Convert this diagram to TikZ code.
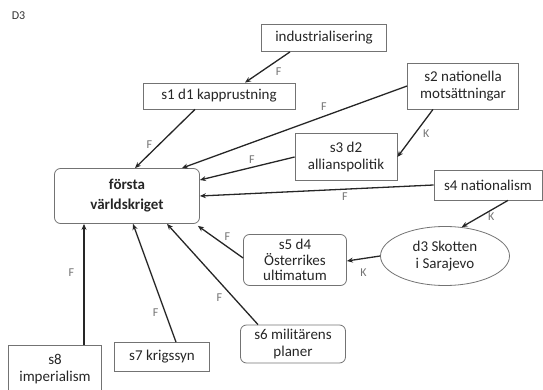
\documentclass[tikz,border=0pt]{standalone}
\usepackage{fontspec}
\setmainfont{Carlito}
\usetikzlibrary{arrows.meta,shapes.geometric}

\begin{document}
\begin{tikzpicture}[x=1pt,y=-1pt,line width=1pt,font=\fontsize{15}{16.5}\selectfont,
    box/.style={draw=black!55,line width=0.8pt,align=center,inner sep=1pt,text=black!85},
    rbox/.style={box,rounded corners=6pt},
    pil/.style={draw=black!85,line width=1.3pt,-{Stealth[length=6pt,width=5pt]}},
    lbl/.style={text=black!55,font=\fontsize{12}{14}\selectfont}]
    \useasboundingbox (0,0) rectangle (543,390);
    \node[anchor=west,text=black!80] (d3) at (8,16) {\fontsize{12}{14}\selectfont D3};
    % noder
    \node[box,minimum width=125,minimum height=27]            (ind) at (324,38)  {industrialisering};
    \node[box,minimum width=152,minimum height=26]            (s1)  at (219,96)  {s1 d1 kapprustning};
    \node[box,minimum width=111,minimum height=46]            (s2)  at (463,86)  {s2 nationella\\motsättningar};
    \node[box,minimum width=102,minimum height=47]            (s3)  at (346,157) {s3 d2\\allianspolitik};
    \node[box,minimum width=108,minimum height=30]            (s4)  at (488,185) {s4 nationalism};
    \node[rbox,minimum width=145,minimum height=55,font=\fontsize{15}{20}\selectfont\bfseries]
                                                              (fv)  at (127,196) {första\\världskriget};
    \node[draw=black!55,line width=0.8pt,ellipse,align=center,minimum width=129,minimum height=59,inner sep=0pt,text=black!85]
                                                              (sk)  at (445,256) {d3 Skotten\\i Sarajevo};
    \node[rbox,minimum width=103,minimum height=51,font=\fontsize{15}{15.5}\selectfont]
                                                              (s5)  at (295,260) {s5 d4\\Österrikes\\ultimatum};
    \node[rbox,minimum width=105,minimum height=38]           (s6)  at (293,344) {s6 militärens\\planer};
    \node[box,minimum width=95,minimum height=29]             (s7)  at (162,357) {s7 krigssyn};
    \node[box,minimum width=93,minimum height=47]             (s8)  at (55,369)  {s8\\imperialism};
    % pilar
    \draw[pil] ([xshift=-34]ind.south) -- ([xshift=26]s1.north)   node[lbl,pos=0.4,below right] {F};
    \draw[pil] ([xshift=-24]s1.south) -- ([xshift=8]fv.north)     node[lbl,pos=0.6,left=3pt] {F};
    \draw[pil] (s2.west) -- ([xshift=-18]fv.north east)           node[lbl,pos=0.37,above=2pt] {F};
    \draw[pil] ([xshift=-30]s2.south) -- (s3.east)                node[lbl,pos=0.5,right=4pt] {K};
    \draw[pil] (s3.west) -- ([yshift=16]fv.east)                  node[lbl,pos=0.45,above] {F};
    \draw[pil] (s4.west) -- (fv.east)                             node[lbl,pos=0.38,below] {F};
    \draw[pil] ([xshift=20]s4.south) -- (sk.60)                   node[lbl,pos=0.6,right=4pt] {K};
    \draw[pil] (sk.west) -- ([yshift=-1]s5.east)                  node[lbl,pos=0.5,below=6pt] {K};
    \draw[pil] ([yshift=2]s5.west) -- ([xshift=-2,yshift=-2]fv.south east) node[lbl,pos=0.35,above=2pt] {F};
    \draw[pil] ([xshift=-35]s6.north) -- ([xshift=40]fv.south)    node[lbl,pos=0.35,below left] {F};
    \draw[pil] ([xshift=14]s7.north) -- ([xshift=6]fv.south)      node[lbl,pos=0.25,left=3pt] {F};
    \draw[pil] ([xshift=29]s8.north) -- ([xshift=-43]fv.south)    node[lbl,pos=0.6,left=6pt] {F};
\end{tikzpicture}
\end{document}
